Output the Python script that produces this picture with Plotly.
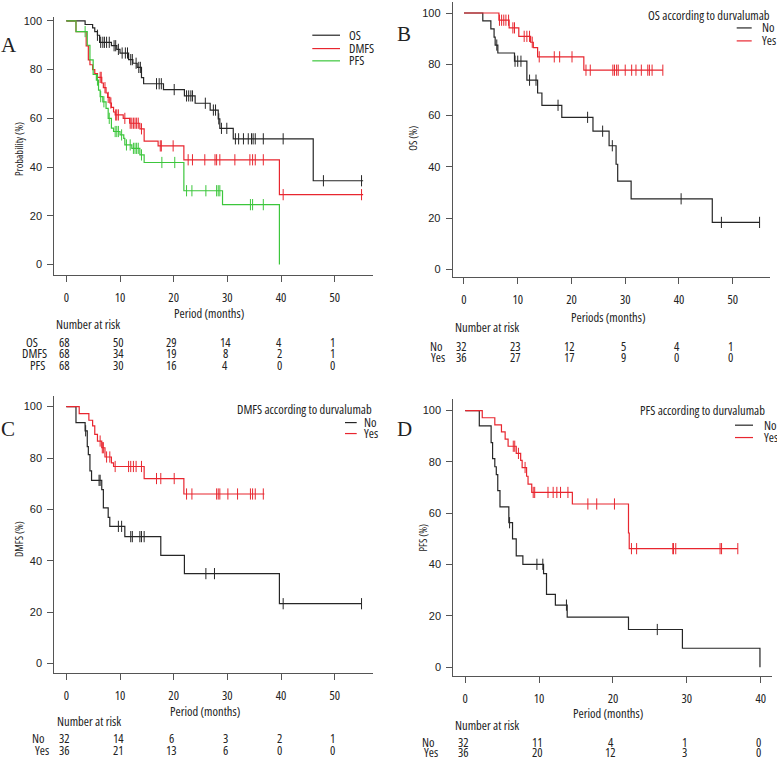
import plotly.graph_objects as go

W, H = 777, 759
FONT = "Open Sans, Liberation Sans, sans-serif"
SERIF = "Liberation Serif, Times New Roman, serif"
TXT = "#222222"
AX = "#555555"
BLACK = "#262626"
RED = "#e8262f"
GREEN = "#3cc63c"

# ---------------- Panel A data ----------------
A_os_t = [3.5, 4.9, 5.3, 5.8, 6.2, 8.4, 9.4, 10.0, 11.6, 12.4, 13.2, 14.0, 14.4, 18.1, 22.0, 24.0, 26.8, 28.3, 28.6, 31.1, 46.0]
A_os_s = [98.5, 97.1, 95.6, 94.1, 91.2, 89.8, 88.3, 86.8, 84.1, 82.6, 80.9, 76.7, 74.2, 71.8, 69.2, 66.2, 63.4, 59.8, 55.9, 51.6, 34.4]
A_os_c = [5.8, 6.4, 6.8, 7.1, 7.5, 8.0, 8.9, 9.2, 9.7, 10.4, 11.0, 11.4, 12.0, 12.3, 13.0, 13.5, 13.8, 16.8, 17.3, 17.7, 20.1,
          22.4, 22.8, 23.2, 23.5, 25.9, 27.4, 27.8, 28.4, 28.9, 29.9, 31.5, 32.1, 33.0, 33.9, 34.5, 34.8, 35.2, 36.7, 40.4, 47.9, 55.0]
A_os_end = 55.3

A_dmfs_t = [1.8, 3.7, 4.1, 4.4, 4.9, 5.3, 5.8, 6.6, 6.9, 7.4, 7.7, 8.1, 8.4, 8.8, 9.1, 10.6, 11.8, 13.7, 14.5, 17.1, 21.9, 39.7]
A_dmfs_s = [95.6, 89.7, 84.0, 82.0, 80.0, 78.4, 76.8, 74.5, 72.6, 70.4, 68.6, 66.3, 64.5, 62.6, 61.4, 60.0, 58.0, 55.7, 50.7, 48.7, 43.0, 28.7]
A_dmfs_c = [6.3, 6.5, 7.2, 7.8, 8.3, 9.2, 9.4, 9.7, 10.9, 11.9, 12.2, 12.5, 12.8, 13.1, 13.4, 14.0, 17.5, 17.7, 19.9, 22.7, 23.5,
            25.8, 27.7, 28.0, 28.6, 31.4, 34.2, 34.7, 35.2, 36.7, 40.4, 55.0]
A_dmfs_end = 55.3

A_pfs_t = [1.8, 3.9, 4.4, 5.0, 5.6, 6.0, 6.3, 6.8, 7.4, 7.8, 8.4, 8.8, 10.0, 10.7, 10.9, 12.2, 13.7, 14.5, 21.9, 29.1, 39.7]
A_pfs_s = [95.6, 90.0, 84.0, 78.0, 75.7, 71.6, 68.9, 66.8, 64.1, 60.0, 56.0, 54.6, 53.2, 51.8, 49.1, 47.7, 45.0, 41.9, 30.3, 24.6, 0.0]
A_pfs_c = [3.5, 5.8, 6.4, 7.0, 8.0, 9.1, 9.4, 9.7, 10.3, 11.2, 11.9, 12.5, 12.8, 13.1, 13.4, 14.0, 17.8, 20.2, 22.4, 23.4, 26.0,
           28.0, 28.3, 28.6, 34.3, 34.7, 36.7]
A_pfs_end = 39.7

A_risk_times = [0, 10, 20, 30, 40, 50]
A_risk_os = [68, 50, 29, 14, 4, 1]
A_risk_dmfs = [68, 34, 19, 8, 2, 1]
A_risk_pfs = [68, 30, 16, 4, 0, 0]

# ---------------- Panel B data (OS by durvalumab) ----------------
B_no_t = [3.5, 5.0, 5.6, 5.8, 6.3, 9.4, 11.7, 13.7, 14.5, 18.2, 24.0, 27.0, 28.3, 28.6, 31.1, 46.2]
B_no_s = [96.9, 93.8, 90.6, 87.5, 84.4, 81.2, 73.8, 68.8, 64.0, 59.3, 53.9, 48.2, 41.0, 34.4, 27.5, 18.3]
B_no_c = [6.1, 9.5, 10.0, 10.6, 12.2, 13.4, 17.5, 23.0, 25.8, 27.6, 40.4, 47.9, 55.0]
B_no_end = 55.0
B_yes_t = [6.5, 8.4, 10.2, 12.4, 12.9, 13.7, 22.3]
B_yes_s = [97.2, 94.2, 90.9, 88.6, 86.5, 82.9, 77.7]
B_yes_c = [6.6, 7.0, 7.4, 7.8, 8.3, 9.1, 9.4, 11.2, 11.7, 12.2, 12.7, 14.0, 16.8, 17.8, 20.1, 22.7, 23.5, 27.7, 28.0, 28.4,
           28.7, 30.0, 31.2, 32.0, 33.0, 34.2, 34.5, 35.0, 37.0]
B_yes_end = 37.0
B_risk_times = [0, 10, 20, 30, 40, 50]
B_risk_no = [32, 23, 12, 5, 4, 1]
B_risk_yes = [36, 27, 17, 9, 0, 0]

# ---------------- Panel C data (DMFS by durvalumab) ----------------
C_no_t = [1.8, 3.5, 3.9, 4.1, 4.4, 4.7, 6.6, 6.9, 7.8, 8.1, 10.9, 17.6, 22.0, 39.7]
C_no_s = [93.8, 90.6, 84.4, 81.3, 75.0, 71.3, 67.7, 60.6, 56.9, 53.4, 49.4, 42.1, 35.0, 23.3]
C_no_c = [3.6, 6.1, 6.3, 9.7, 10.3, 12.0, 12.3, 13.7, 14.0, 14.5, 26.0, 27.6, 40.4, 55.0]
C_no_end = 55.0
C_yes_t = [2.4, 4.2, 4.9, 5.3, 5.8, 6.6, 7.2, 8.4, 8.8, 14.5, 21.9]
C_yes_s = [97.3, 94.7, 92.5, 89.2, 86.6, 84.0, 80.4, 78.1, 76.7, 72.0, 66.0]
C_yes_c = [6.3, 6.7, 6.9, 7.5, 8.1, 9.1, 11.6, 12.0, 12.5, 13.0, 14.0, 16.8, 17.6, 20.1, 22.4, 23.4, 28.0, 28.3, 28.6,
           30.1, 31.9, 34.3, 34.7, 35.2, 36.7]
C_yes_end = 36.9
C_risk_times = [0, 10, 20, 30, 40, 50]
C_risk_no = [32, 14, 6, 3, 2, 1]
C_risk_yes = [36, 21, 13, 6, 0, 0]

# ---------------- Panel D data (PFS by durvalumab) ----------------
D_no_t = [1.9, 3.5, 3.7, 4.0, 4.2, 4.4, 4.7, 5.9, 6.4, 6.9, 7.8, 10.6, 11.0, 12.2, 13.8, 22.1, 29.4, 39.9]
D_no_s = [94.0, 87.5, 81.3, 78.1, 75.0, 68.8, 62.5, 56.3, 50.0, 43.4, 40.1, 36.5, 28.4, 24.2, 19.5, 14.7, 7.4, 0.0]
D_no_c = [6.0, 9.7, 10.5, 13.7, 26.0]
D_no_end = 39.9
D_yes_t = [2.3, 4.0, 4.9, 5.4, 5.8, 6.9, 7.5, 7.7, 8.3, 8.5, 9.0, 14.5, 22.1, 22.2]
D_yes_s = [97.2, 94.4, 91.7, 88.9, 86.1, 83.3, 80.6, 77.8, 74.4, 71.3, 68.1, 63.6, 52.3, 46.2]
D_yes_c = [6.5, 6.7, 7.2, 8.1, 9.2, 9.4, 11.2, 11.9, 12.4, 12.9, 13.9, 16.6, 17.8, 20.2, 22.5, 23.2, 28.1, 28.2, 28.5,
           34.5, 34.7, 36.9]
D_yes_end = 36.9
D_risk_times = [0, 10, 20, 30, 40]
D_risk_no = [32, 11, 4, 1, 0]
D_risk_yes = [36, 20, 12, 3, 0]

Y_TICKS = [0, 20, 40, 60, 80, 100]


def px_x(p):
    return p / W


def px_y(p):
    return 1 - p / H


def cond(s):
    return "<span style='font-stretch:82%'>" + str(s) + "</span>"


fig = go.Figure()


def surv_at(t, times, surv):
    v = 100.0
    for tt, ss in zip(times, surv):
        if tt <= t:
            v = ss
    return v


def add_km(times, surv, cens, end, color, xa, ya):
    xs = [0] + list(times) + [end]
    ys = [100] + list(surv) + [surv[-1]]
    fig.add_trace(go.Scatter(x=xs, y=ys, mode="lines", line=dict(color=color, width=1.2, shape="hv"),
                             xaxis=xa, yaxis=ya, hoverinfo="skip", showlegend=False))
    cy = [surv_at(c, times, surv) for c in cens]
    fig.add_trace(go.Scatter(x=cens, y=cy, mode="markers",
                             marker=dict(symbol="line-ns", size=8, line=dict(color=color, width=1)),
                             xaxis=xa, yaxis=ya, hoverinfo="skip", showlegend=False))


add_km(A_os_t, A_os_s, A_os_c, A_os_end, BLACK, "x", "y")
add_km(A_dmfs_t, A_dmfs_s, A_dmfs_c, A_dmfs_end, RED, "x", "y")
add_km(A_pfs_t, A_pfs_s, A_pfs_c, A_pfs_end, GREEN, "x", "y")
add_km(B_no_t, B_no_s, B_no_c, B_no_end, BLACK, "x2", "y2")
add_km(B_yes_t, B_yes_s, B_yes_c, B_yes_end, RED, "x2", "y2")
add_km(C_no_t, C_no_s, C_no_c, C_no_end, BLACK, "x3", "y3")
add_km(C_yes_t, C_yes_s, C_yes_c, C_yes_end, RED, "x3", "y3")
add_km(D_no_t, D_no_s, D_no_c, D_no_end, BLACK, "x4", "y4")
add_km(D_yes_t, D_yes_s, D_yes_c, D_yes_end, RED, "x4", "y4")

panels = {
    "": dict(xd=(54.3, 372.7), xr=(-2.24, 57.08), yd=(273.3, 15), yr=(-4.09, 101.6), xt=A_risk_times),
    "2": dict(xd=(452.7, 770), xr=(-2.10, 56.94), yd=(276, 0), yr=(-3.11, 104.3), xt=B_risk_times),
    "3": dict(xd=(54.3, 372.7), xr=(-2.24, 57.08), yd=(672.3, 395), yr=(-3.49, 104.15), xt=C_risk_times),
    "4": dict(xd=(453.3, 771.7), xr=(-1.62, 41.49), yd=(675.7, 398.3), yr=(-3.38, 104.4), xt=D_risk_times),
}

lay = {}
for k, p in panels.items():
    lay["xaxis" + k] = dict(domain=[px_x(p["xd"][0]), px_x(p["xd"][1])], range=list(p["xr"]), anchor="y" + k,
                            showline=True, linecolor=AX, linewidth=1, ticks="outside", ticklen=6, tickwidth=1,
                            tickcolor=AX, tickvals=p["xt"], ticktext=[cond(v) for v in p["xt"]],
                            tickfont=dict(family=FONT, size=12.5, color=TXT),
                            ticklabelstandoff=5, showgrid=False, zeroline=False, fixedrange=True)
    lay["yaxis" + k] = dict(domain=[px_y(p["yd"][0]), px_y(p["yd"][1])], range=list(p["yr"]), anchor="x" + k,
                            showline=True, linecolor=AX, linewidth=1, ticks="outside", ticklen=6, tickwidth=1,
                            tickcolor=AX, tickvals=Y_TICKS, tickfont=dict(family="Liberation Sans", size=11, color=TXT),
                            ticklabelstandoff=3, showgrid=False, zeroline=False, fixedrange=True)

ann = []
shapes = []


def text(x, y, s, size=12.5, family=FONT, xanchor="center", angle=0, xref="paper", xshift=0, narrow=True):
    ann.append(dict(x=x, y=y, xref=xref, yref="paper", text=cond(s) if narrow else s, showarrow=False,
                    xanchor=xanchor, yanchor="middle",
                    font=dict(family=family, size=size, color=TXT), textangle=angle, xshift=xshift))


text(px_x(9), px_y(43), "A", size=21, family=SERIF, narrow=False)
text(px_x(404), px_y(32), "B", size=21, family=SERIF, narrow=False)
text(px_x(8), px_y(428), "C", size=21, family=SERIF, narrow=False)
text(px_x(405), px_y(428), "D", size=21, family=SERIF, narrow=False)

text(px_x(209), px_y(312), "Period (months)")
text(px_x(608), px_y(316), "Periods (months)")
text(px_x(205), px_y(711), "Period (months)")
text(px_x(608), px_y(713), "Period (months)")
text(px_x(18.5), px_y(148), "Probability (%)", size=10.5, angle=-90)
text(px_x(413), px_y(137), "OS (%)", size=10.5, angle=-90)
text(px_x(18.5), px_y(539), "DMFS (%)", size=10.5, angle=-90)
text(px_x(423), px_y(537), "PFS (%)", size=10.5, angle=-90)


def legend_line(x0, x1, y, color):
    shapes.append(dict(type="line", xref="paper", yref="paper", x0=px_x(x0), x1=px_x(x1), y0=px_y(y), y1=px_y(y),
                       line=dict(color=color, width=1.2)))


for lab, yy, col in [("OS", 33.3, BLACK), ("DMFS", 46.7, RED), ("PFS", 59, GREEN)]:
    legend_line(312.3, 340, yy, col)
    text(px_x(346.7), px_y(yy), lab, xanchor="left")

for title, tx, ty, lx0, lx1, tlx, y1, y2 in [
    ("OS according to durvalumab", 709, 13.3, 736.7, 751.7, 760, 26, 39),
    ("DMFS according to durvalumab", 304, 408.3, 345, 356.7, 361.7, 421.7, 432.7),
    ("PFS according to durvalumab", 702.5, 409.3, 735, 753, 761.7, 424.3, 436.7),
]:
    text(px_x(tx), px_y(ty), title)
    legend_line(lx0, lx1, y1, BLACK)
    legend_line(lx0, lx1, y2, RED)
    text(px_x(tlx), px_y(y1), "No", xanchor="left")
    text(px_x(tlx), px_y(y2), "Yes", xanchor="left")


def risk_table(xref, nar_x, nar_y, rows, times):
    text(px_x(nar_x), px_y(nar_y), "Number at risk", xanchor="left")
    for label, lx, ry, vals in rows:
        text(px_x(lx), px_y(ry), label)
        for t, v in zip(times, vals):
            text(t, px_y(ry), str(v), xref=xref, xshift=-2)


risk_table("x", 54.3, 323, [("OS", 31.7, 341, A_risk_os), ("DMFS", 34.7, 352.5, A_risk_dmfs),
                            ("PFS", 37.2, 364, A_risk_pfs)], A_risk_times)
risk_table("x2", 452.7, 326.7, [("No", 436, 345, B_risk_no), ("Yes", 438, 356.7, B_risk_yes)], B_risk_times)
risk_table("x3", 55, 721.7, [("No", 38.8, 738.3, C_risk_no), ("Yes", 41.7, 750, C_risk_yes)], C_risk_times)
risk_table("x4", 453, 725, [("No", 428, 742, D_risk_no), ("Yes", 430.5, 752.5, D_risk_yes)], D_risk_times)

fig.update_layout(width=W, height=H, margin=dict(l=0, r=0, t=0, b=0), paper_bgcolor="white",
                  plot_bgcolor="white", showlegend=False, annotations=ann, shapes=shapes, **lay)

fig.write_html("out.html", config={"displayModeBar": False},
               post_script="document.body.style.margin='0';document.body.style.padding='0';")
